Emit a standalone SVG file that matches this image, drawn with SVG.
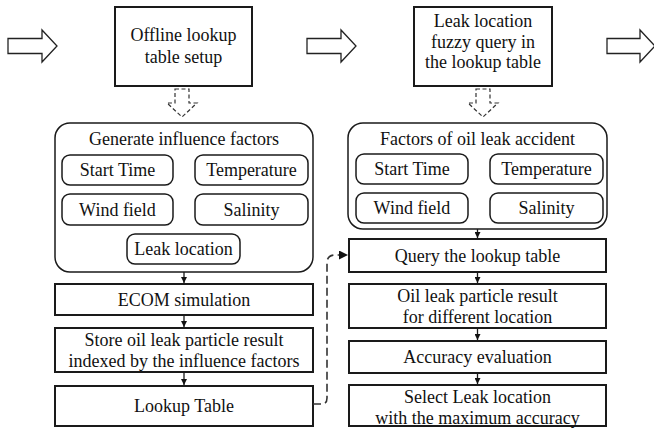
<svg xmlns="http://www.w3.org/2000/svg" width="654" height="432" viewBox="0 0 654 432" font-family="'Liberation Serif', 'DejaVu Serif', serif">
<defs>
<style>
text{font-family:'Liberation Serif','Times New Roman',Times,serif;font-size:18px;fill:#111;text-anchor:middle}
.box{fill:#fff;stroke:#1a1a1a;stroke-width:2}
.panel{fill:#fff;stroke:#1a1a1a;stroke-width:1.5}
.pill{fill:#fff;stroke:#1a1a1a;stroke-width:1.5}
.hollow{fill:#fff;stroke:#222;stroke-width:1.3;stroke-linejoin:miter}
.dhollow{fill:#fff;stroke:#333;stroke-width:1.2;stroke-dasharray:4 2.5}
.conn{fill:none;stroke:#1a1a1a;stroke-width:1.3}
.dash{fill:none;stroke:#333;stroke-width:1.6;stroke-dasharray:8 4}
</style>
<marker id="ah" viewBox="0 0 10 10" refX="10" refY="5" markerWidth="6" markerHeight="6" markerUnits="userSpaceOnUse" orient="auto">
<path d="M0,0 L10,5 L0,10 Z" fill="#111"/>
</marker>
<marker id="ahd" viewBox="0 0 10 10" refX="10" refY="5" markerWidth="9" markerHeight="9" markerUnits="userSpaceOnUse" orient="auto">
<path d="M0,0 L10,5 L0,10 Z" fill="#111"/>
</marker>
</defs>

<g id="flow-arrows">
<path class="hollow" d="M8,38.5 H42 V30 L57,46 L42,62 V53.5 H8 Z"/>
<path class="hollow" d="M307,38.5 H341 V30 L356,46 L341,62 V53.5 H307 Z"/>
<path class="hollow" d="M607,38.5 H640 V30 L655,46 L640,62 V53.5 H607 Z"/>
<path class="dhollow" d="M175,89 H189 V103 H197 L182,117 L167,103 H175 Z"/>
<path class="dhollow" d="M476,89 H490 V103 H498 L483,117 L468,103 H476 Z"/>
</g>

<g id="offline-setup">
<rect class="box" x="115" y="7" width="137" height="79"/>
<text x="183.5" y="41">Offline lookup</text>
<text x="183.5" y="63">table setup</text>
</g>

<g id="fuzzy-query">
<rect class="box" x="414" y="7" width="138" height="79"/>
<text x="483" y="27">Leak location</text>
<text x="483" y="47.5">fuzzy query in</text>
<text x="483" y="68">the lookup table</text>
</g>

<g id="generate-factors">
<rect class="panel" x="55" y="123" width="258" height="149" rx="15"/>
<text x="184" y="145">Generate influence factors</text>
<g id="l-start-time"><rect class="pill" x="62" y="155" width="111" height="30" rx="8"/><text x="117.5" y="176">Start Time</text></g>
<g id="l-temperature"><rect class="pill" x="195" y="155" width="113" height="30" rx="8"/><text x="251.5" y="176">Temperature</text></g>
<g id="l-wind-field"><rect class="pill" x="62" y="194" width="111" height="31" rx="8"/><text x="117.5" y="215.5">Wind field</text></g>
<g id="l-salinity"><rect class="pill" x="195" y="194" width="113" height="31" rx="8"/><text x="251.5" y="215.5">Salinity</text></g>
<g id="l-leak-location"><rect class="pill" x="127" y="234" width="113" height="30" rx="8"/><text x="183.5" y="255">Leak location</text></g>
</g>

<g id="ecom">
<rect class="box" x="55" y="284" width="258" height="31"/>
<text x="184" y="305.5">ECOM simulation</text>
</g>

<g id="store">
<rect class="box" x="55" y="328" width="258" height="44"/>
<text x="184" y="346">Store oil leak particle result</text>
<text x="184" y="367">indexed by the influence factors</text>
</g>

<g id="lookup-table">
<rect class="box" x="55" y="386" width="258" height="40"/>
<text x="184" y="412">Lookup Table</text>
</g>

<g id="accident-factors">
<rect class="panel" x="348" y="123" width="259" height="106" rx="15"/>
<text x="477.5" y="145">Factors of oil leak accident</text>
<g id="r-start-time"><rect class="pill" x="356" y="154" width="112" height="30" rx="8"/><text x="412" y="175">Start Time</text></g>
<g id="r-temperature"><rect class="pill" x="490" y="154" width="113" height="30" rx="8"/><text x="546.5" y="175">Temperature</text></g>
<g id="r-wind-field"><rect class="pill" x="356" y="193" width="112" height="30" rx="8"/><text x="412" y="214">Wind field</text></g>
<g id="r-salinity"><rect class="pill" x="490" y="193" width="113" height="30" rx="8"/><text x="546.5" y="214">Salinity</text></g>
</g>

<g id="query">
<rect class="box" x="349" y="239" width="257" height="33"/>
<text x="477.5" y="261.5">Query the lookup table</text>
</g>

<g id="oil-result">
<rect class="box" x="349" y="284" width="257" height="44"/>
<text x="477.5" y="302">Oil leak particle result</text>
<text x="477.5" y="323">for different location</text>
</g>

<g id="accuracy">
<rect class="box" x="349" y="341" width="257" height="32"/>
<text x="477.5" y="363">Accuracy evaluation</text>
</g>

<g id="select">
<rect class="box" x="349" y="385" width="257" height="41"/>
<text x="477.5" y="403">Select Leak location</text>
<text x="477.5" y="424">with the maximum accuracy</text>
</g>

<g id="connectors">
<line class="conn" x1="184" y1="272" x2="184" y2="283" marker-end="url(#ah)"/>
<line class="conn" x1="184" y1="315" x2="184" y2="327" marker-end="url(#ah)"/>
<line class="conn" x1="184" y1="372" x2="184" y2="385" marker-end="url(#ah)"/>
<line class="conn" x1="477.5" y1="229" x2="477.5" y2="238" marker-end="url(#ah)"/>
<line class="conn" x1="477.5" y1="272" x2="477.5" y2="283" marker-end="url(#ah)"/>
<line class="conn" x1="477.5" y1="328" x2="477.5" y2="340" marker-end="url(#ah)"/>
<line class="conn" x1="477.5" y1="373" x2="477.5" y2="384" marker-end="url(#ah)"/>
<path class="dash" d="M313,404 H322 Q327,404 327,398 V263 Q327,255 335,255 H348" marker-end="url(#ahd)"/>
</g>
</svg>
